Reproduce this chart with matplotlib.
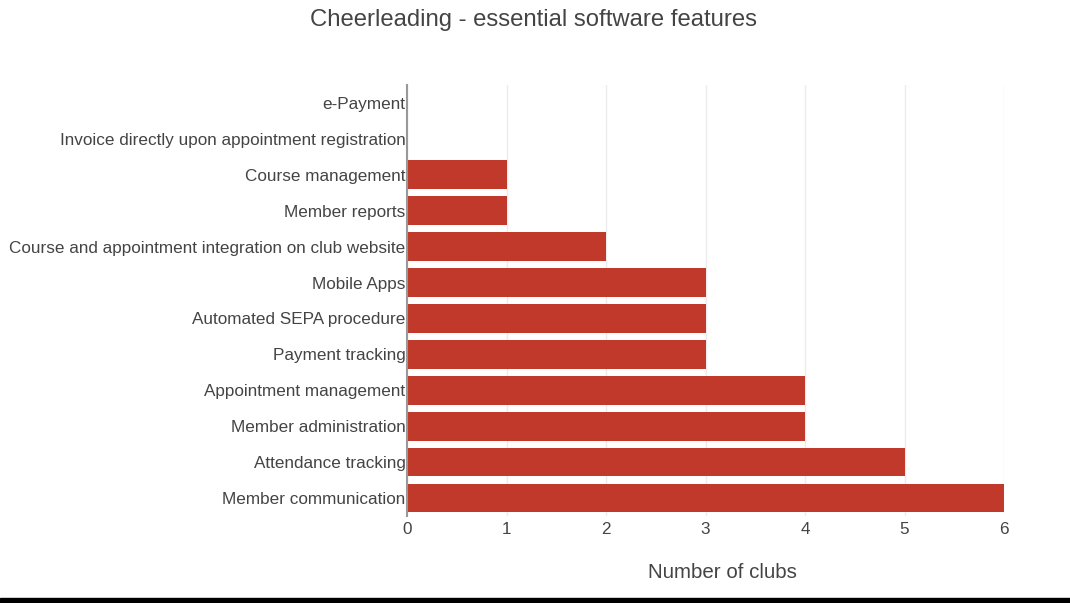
import matplotlib
matplotlib.use("Agg")
import matplotlib.pyplot as plt
from matplotlib.patches import Rectangle

plt.rcParams['font.family'] = ['Liberation Sans', 'DejaVu Sans']

features = [
    "e-Payment",
    "Invoice directly upon appointment registration",
    "Course management",
    "Member reports",
    "Course and appointment integration on club website",
    "Mobile Apps",
    "Automated SEPA procedure",
    "Payment tracking",
    "Appointment management",
    "Member administration",
    "Attendance tracking",
    "Member communication",
]
clubs = [0, 0, 1, 1, 2, 3, 3, 3, 4, 4, 5, 6]
x_ticks = [0, 1, 2, 3, 4, 5, 6]

bar_color = "#c0392b"
text_color = "#444444"

fig = plt.figure(figsize=(10.70, 6.03), dpi=100)
ax = fig.add_axes([407 / 1070, 1 - 516 / 603, (1004 - 407) / 1070, (516 - 85) / 603])

y = list(range(len(features)))
ax.barh(y, clubs, height=0.8, color=bar_color, zorder=3)
ax.set_ylim(len(features) - 0.5, -0.5)
ax.set_xlim(0, 6)
ax.set_yticks(y)
ax.set_yticklabels(features, fontsize=12.3, color=text_color)
ax.set_xticks(x_ticks)
ax.set_xticklabels([str(t) for t in x_ticks], fontsize=12.3, color=text_color)
ax.tick_params(axis='y', length=0, pad=1)
ax.tick_params(axis='x', length=0, pad=4)

ax.grid(axis='x', color="#ebebeb", linewidth=1, zorder=0)
for side in ("top", "right", "bottom"):
    ax.spines[side].set_visible(False)
ax.spines["left"].set_color("#999999")
ax.spines["left"].set_linewidth(1.5)
ax.spines["left"].set_zorder(4)

fig.text(533 / 1070, 1 - 20 / 603, "Cheerleading - essential software features",
         ha="center", va="center", fontsize=17.2, color=text_color)
fig.text(722 / 1070, 1 - 573 / 603, "Number of clubs",
         ha="center", va="center", fontsize=14.8, color=text_color)

# black strip along the bottom edge
fig.patches.append(Rectangle((0, 0), 1, 5 / 603, transform=fig.transFigure,
                             color="black", zorder=10))

fig.savefig("out.png", dpi=100)
